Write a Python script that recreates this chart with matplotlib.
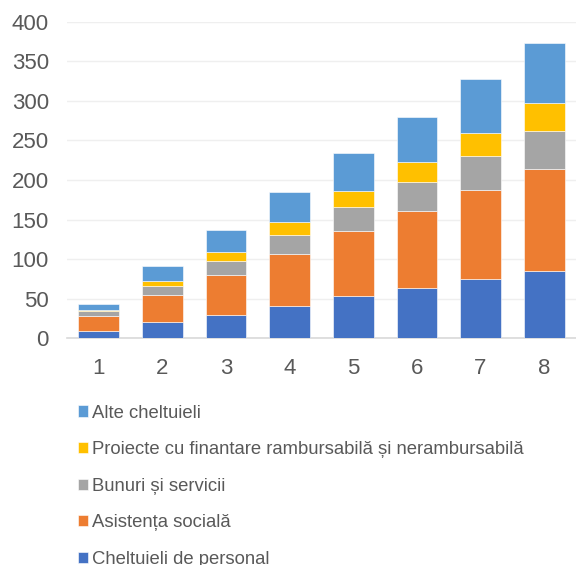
import matplotlib.pyplot as plt
import numpy as np

plt.rcParams['font.family'] = ['Liberation Sans', 'DejaVu Sans']

# Data
categories = ['1', '2', '3', '4', '5', '6', '7', '8']
personal = [9, 20, 30, 41, 53, 63, 75, 85]
asistenta = [19.5, 34.5, 50.5, 66, 82.5, 98, 112.5, 129]
bunuri = [6, 12, 17.5, 23.5, 30, 36, 43, 48.5]
proiecte = [1.5, 6.5, 11.5, 16.5, 21, 26, 29.5, 35]
alte = [7, 18, 27.5, 38, 48, 57, 67, 75]

series = [
    ('Cheltuieli de personal', personal, '#4472C4'),
    ('Asistența socială', asistenta, '#ED7D31'),
    ('Bunuri și servicii', bunuri, '#A5A5A5'),
    ('Proiecte cu finantare rambursabilă și nerambursabilă', proiecte, '#FFC000'),
    ('Alte cheltuieli', alte, '#5B9BD5'),
]

fig = plt.figure(figsize=(5.76, 5.65), dpi=100)
ax = fig.add_axes([0.1163, 0.4012, 0.8837, 0.5604])

x = np.arange(len(categories))
bottom = np.zeros(len(categories))
handles = []
for name, vals, col in series:
    b = ax.bar(x, vals, bottom=bottom, width=0.64, color=col, label=name,
               edgecolor='#ffffff', linewidth=0.4, zorder=3)
    handles.append(b)
    bottom += np.array(vals)

ax.set_xlim(-0.5, 7.5)
ax.set_ylim(0, 400)
ax.set_yticks(range(0, 401, 50))
ax.set_xticks(x)
ax.set_xticklabels(categories)
ax.grid(axis='y', color='#efefef', linewidth=1, zorder=0)
for s in ['top', 'right', 'left']:
    ax.spines[s].set_visible(False)
ax.spines['bottom'].set_color('#d9d9d9')
ax.spines['bottom'].set_linewidth(1.2)
ax.tick_params(axis='both', length=0, labelsize=16, labelcolor='#595959')
ax.tick_params(axis='y', pad=13)
ax.tick_params(axis='x', pad=14)

leg = fig.legend(handles[::-1], [s[0] for s in series][::-1],
                 loc='upper left', bbox_to_anchor=(0.135, 0.284),
                 frameon=False, fontsize=13.3, labelcolor='#595959',
                 handlelength=0.55, handleheight=0.55, handletextpad=0.22,
                 labelspacing=1.06, borderpad=0, borderaxespad=0)

fig.savefig('out.png', dpi=100)
